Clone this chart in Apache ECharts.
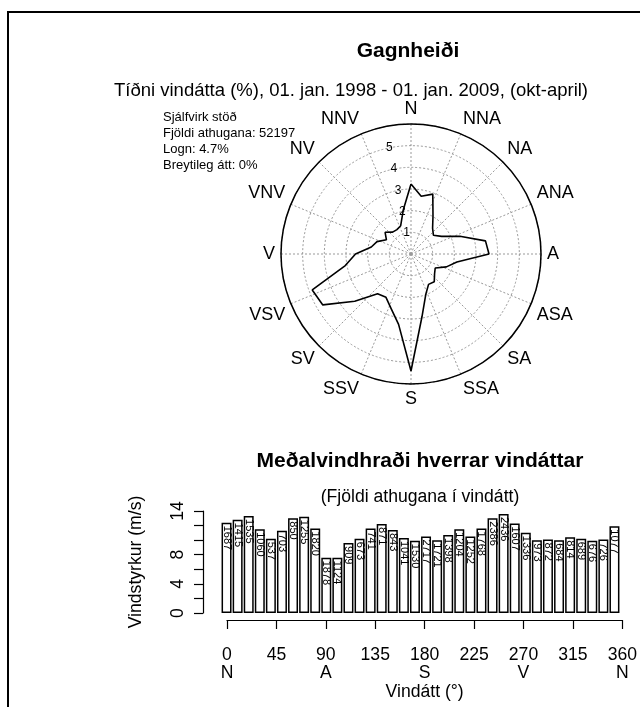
<!DOCTYPE html>
<html><head><meta charset="utf-8">
<script src="https://cdn.jsdelivr.net/npm/echarts@6/dist/echarts.min.js"></script>
<style>html,body{margin:0;padding:0;background:#fff}#c{width:640px;height:707px}</style>
</head><body><div id="c"></div>
<script>
// ---- data ----
const compassLabels = ['N','NNA','NA','ANA','A','ASA','SA','SSA','S','SSV','SV','VSV','V','VNV','NV','NNV'];
const directions = [0,10,20,30,40,50,60,70,80,90,100,110,120,130,140,150,160,170,180,190,200,210,220,230,240,250,260,270,280,290,300,310,320,330,340,350];
// wind direction frequency (%)
const roseFreq = [3.23,2.71,2.94,2.03,1.55,1.35,1.63,2.40,3.49,3.60,2.15,1.74,1.29,1.42,1.67,1.62,1.99,2.93,5.40,3.30,2.68,2.31,2.40,3.39,4.70,4.85,3.08,2.56,1.86,1.67,1.31,1.56,1.32,1.30,1.39,2.06];
// mean wind speed per direction (m/s)
const meanSpeed = [12.4,12.8,13.3,11.5,10.2,11.3,13.0,13.2,11.6,7.6,7.6,9.6,10.2,11.6,12.2,11.4,10.3,9.9,10.5,10.0,10.7,11.5,10.5,11.6,13.0,13.6,12.3,11.0,10.0,10.1,10.0,10.4,10.2,9.9,10.1,11.9];
// number of observations per direction
const obsCount = [1687,1415,1535,1060,537,703,850,1255,1820,1878,1124,909,673,741,871,843,1041,1530,2717,1721,1398,1204,1252,1768,2386,2436,1607,1336,973,872,684,814,689,676,726,1077];
const radiusTicks = [1,2,3,4,5];
const speedTickLabels = [0,4,8,14];
const degreeTicks = [0,45,90,135,180,225,270,315,360];
const degreeNames = {0:'N',90:'A',180:'S',270:'V',360:'N'};
const infoLines = ['Sjálfvirk stöð','Fjöldi athugana: 52197','Logn: 4.7%','Breytileg átt: 0%'];
const titleText = 'Gagnheiði';
const subtitleText = 'Tíðni vindátta (%), 01. jan. 1998 - 01. jan. 2009, (okt-april)';
const barTitle = 'Meðalvindhraði hverrar vindáttar';
const barSubtitle = '(Fjöldi athugana í vindátt)';

const FF = '"Liberation Sans", Arial, sans-serif';
const chart = echarts.init(document.getElementById('c'), null, {renderer:'canvas'});

function txt(x, y, text, size, bold) {
  return {type:'text', x:x, y:y, silent:true,
    style:{text:text, font:(bold?'bold ':'')+size+'px '+FF, fill:'#000',
      align:'center', verticalAlign:'middle', textAlign:'center', textVerticalAlign:'middle'}};
}
const graphics = [
  {type:'rect', silent:true, shape:{x:8, y:12, width:720, height:800}, style:{fill:null, stroke:'#000', lineWidth:2}},
  txt(408, 51, titleText, 21, true),
  txt(351, 91, subtitleText, 18.5, false),
  txt(420, 461, barTitle, 21, true),
  txt(420, 497, barSubtitle, 17.6, false)
];
infoLines.forEach((s, i) => {
  graphics.push({type:'text', x:163, y:117 + i*16, silent:true,
    style:{text:s, font:'13px '+FF, fill:'#000', align:'left', verticalAlign:'middle', textAlign:'left', textVerticalAlign:'middle'}});
});

const roseData = directions.map((a, i) => [roseFreq[i], a]);
roseData.push([roseFreq[0], 360]);

const option = {
  backgroundColor:'#fff',
  animation:false,
  textStyle:{fontFamily:FF},
  graphic: graphics,
  polar:[
    {center:[411,254], radius:130},
    {center:[411,254], radius:130}
  ],
  angleAxis:[
    {polarIndex:0, type:'value', min:0, max:360, interval:22.5, startAngle:90, clockwise:true,
      axisLine:{show:true, lineStyle:{color:'#000', width:1.5}},
      axisTick:{show:false},
      axisLabel:{show:true, margin:6, fontSize:18, color:'#000', fontFamily:FF,
        formatter: v => v >= 360 ? '' : compassLabels[Math.round(v/22.5) % 16]},
      splitLine:{show:true, lineStyle:{color:'#999', type:[2,2], width:1}}
    },
    {polarIndex:1, type:'value', min:0, max:360, startAngle:101.5, clockwise:true,
      axisLine:{show:false}, axisTick:{show:false}, axisLabel:{show:false}, splitLine:{show:false}}
  ],
  radiusAxis:[
    {polarIndex:0, type:'value', min:0, max:6, interval:1,
      axisLine:{show:false}, axisTick:{show:false}, axisLabel:{show:false},
      splitLine:{show:true, lineStyle:{color:'#999', type:[2,2], width:1}}},
    {polarIndex:1, type:'value', min:0, max:6, interval:1,
      axisLine:{show:false}, axisTick:{show:false}, splitLine:{show:false},
      axisLabel:{show:true, margin:0, align:'center', verticalAlign:'middle', fontSize:12, color:'#000', fontFamily:FF,
        formatter: v => radiusTicks.indexOf(v) >= 0 ? String(v) : ''}}
  ],
  grid:[
    {left:221, top:511, width:399, height:102},
    {left:227, top:560, width:398, height:60}
  ],
  xAxis:[
    {gridIndex:0, type:'category', data:directions, show:false},
    {gridIndex:1, type:'value', min:0, max:360, interval:45, position:'bottom',
      axisLine:{show:true, lineStyle:{color:'#000', width:1.2}},
      axisTick:{show:true, inside:false, length:9, lineStyle:{color:'#000', width:1.2}},
      axisLabel:{show:true, margin:26, fontSize:17.6, color:'#000', lineHeight:18, fontFamily:FF,
        formatter: v => degreeTicks.indexOf(v) >= 0 ? (v + '\n' + (degreeNames[v] || ' ')) : ''},
      splitLine:{show:false},
      name:'Vindátt (°)', nameLocation:'middle', nameGap:61,
      nameTextStyle:{fontSize:17.6, color:'#000', fontFamily:FF}}
  ],
  yAxis:[
    {gridIndex:0, type:'value', min:0, max:14, interval:2, offset:18,
      axisLine:{show:true, lineStyle:{color:'#000', width:1.2}},
      axisTick:{show:true, inside:false, length:9, lineStyle:{color:'#000', width:1.2}},
      axisLabel:{show:true, rotate:90, margin:16, fontSize:17.6, color:'#000', fontFamily:FF,
        formatter: v => speedTickLabels.indexOf(v) >= 0 ? String(v) : ''},
      splitLine:{show:false},
      name:'Vindstyrkur (m/s)', nameLocation:'middle', nameRotate:90, nameGap:58,
      nameTextStyle:{fontSize:17.6, color:'#000', fontFamily:FF}},
    {gridIndex:1, type:'value', min:0, max:1, show:false}
  ],
  series:[
    {type:'line', coordinateSystem:'polar', polarIndex:0, data:roseData, symbol:'none', silent:true,
      lineStyle:{color:'#000', width:1.6}},
    {type:'bar', xAxisIndex:0, yAxisIndex:0, data:meanSpeed, barCategoryGap:'10%', silent:true,
      itemStyle:{color:'#fff', borderColor:'#000', borderWidth:1.5},
      label:{show:true, position:'insideTop', rotate:-90, align:'left', verticalAlign:'middle', distance:3,
        fontSize:11, color:'#000', fontFamily:FF,
        formatter: p => String(obsCount[p.dataIndex])}},
    {type:'scatter', xAxisIndex:1, yAxisIndex:1, data:[], silent:true}
  ]
};
chart.setOption(option);
</script>
</body></html>
